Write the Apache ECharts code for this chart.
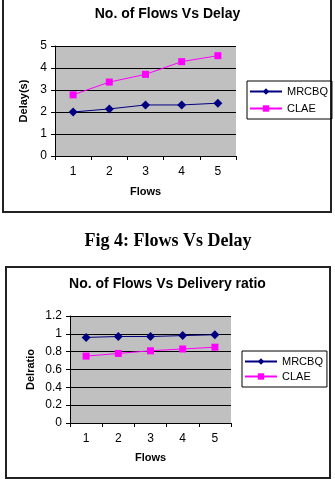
<!DOCTYPE html>
<html>
<head>
<meta charset="utf-8">
<script src="https://cdn.jsdelivr.net/npm/echarts@6/dist/echarts.min.js"></script>
<style>
  html, body { margin: 0; padding: 0; background: #fff; }
  #main { width: 335px; height: 479px; }
</style>
</head>
<body>
<div id="main"></div>
<script>
var flows = ['1', '2', '3', '4', '5'];
var delayMRCBQ = [2.0, 2.14, 2.32, 2.32, 2.4];
var delayCLAE = [2.78, 3.36, 3.71, 4.29, 4.56];
var ratioMRCBQ = [0.96, 0.97, 0.97, 0.98, 0.99];
var ratioCLAE = [0.75, 0.78, 0.81, 0.83, 0.85];

var font = 'Liberation Sans, Arial, sans-serif';
var myChart = echarts.init(document.getElementById('main'));

function yAxisOf(grid, name, max, interval, gap) {
    return {
        type: 'value', gridIndex: grid, min: 0, max: max, interval: interval,
        name: name, nameLocation: 'middle', nameGap: gap,
        nameTextStyle: { fontFamily: font, fontSize: 11, fontWeight: 'bold', color: '#000' },
        axisLine: { show: true, lineStyle: { color: '#000', width: 1 } },
        axisTick: { show: true, length: 4, lineStyle: { color: '#000' } },
        axisLabel: { fontFamily: font, fontSize: 12, color: '#000', margin: 8 },
        splitLine: { show: true, lineStyle: { color: '#000', width: 1 } }
    };
}

function xAxisOf(grid, gap) {
    return {
        type: 'category', gridIndex: grid, data: flows,
        name: 'Flows', nameLocation: 'middle', nameGap: gap,
        nameTextStyle: { fontFamily: font, fontSize: 11, fontWeight: 'bold', color: '#000' },
        axisLine: { show: true, lineStyle: { color: '#000', width: 1 } },
        axisTick: { show: true, length: 4, lineStyle: { color: '#000' } },
        axisLabel: { fontFamily: font, fontSize: 12, color: '#000', margin: 10 }
    };
}

function lineOf(name, grid, data, color, symbol, size) {
    return {
        name: name, type: 'line', xAxisIndex: grid, yAxisIndex: grid, data: data,
        symbol: symbol, symbolSize: size,
        lineStyle: { color: color, width: 1 },
        itemStyle: { color: color },
        emphasis: { disabled: true }
    };
}

function legendOf(left, top, gap, pad) {
    return {
        orient: 'vertical', left: left, top: top,
        data: ['MRCBQ', 'CLAE'],
        borderColor: '#000', borderWidth: 1, padding: pad,
        itemWidth: 32, itemHeight: 8, itemGap: gap,
        textStyle: { fontFamily: font, fontSize: 11, color: '#000' }
    };
}

var option = {
    animation: false,
    graphic: [
        { type: 'rect', shape: { x: 3, y: -5, width: 328, height: 217 },
          style: { fill: 'none', stroke: '#222', lineWidth: 2 } },
        { type: 'rect', shape: { x: 6, y: 267, width: 324, height: 211 },
          style: { fill: 'none', stroke: '#222', lineWidth: 2 } },
        { type: 'text', x: 168, y: 241,
          style: { text: 'Fig 4: Flows Vs Delay', font: 'bold 18px "Liberation Serif", serif',
                   fill: '#000', align: 'center', verticalAlign: 'middle' } }
    ],
    title: [
        { text: 'No. of Flows Vs Delay', left: 'center', top: 2,
          textStyle: { fontFamily: font, fontSize: 14, fontWeight: 'bold', color: '#000' } },
        { text: 'No. of Flows Vs Delivery ratio', left: 'center', top: 272,
          textStyle: { fontFamily: font, fontSize: 14, fontWeight: 'bold', color: '#000' } }
    ],
    legend: [legendOf(247, 81, 6, [5, 4, 5, 2]), legendOf(242, 351, 4, [5, 4, 5, 2])],
    grid: [
        { left: 55, top: 46, width: 181, height: 110, show: true,
          backgroundColor: '#c0c0c0', borderWidth: 0 },
        { left: 70, top: 316, width: 161, height: 107, show: true,
          backgroundColor: '#c0c0c0', borderWidth: 0 }
    ],
    xAxis: [xAxisOf(0, 30), xAxisOf(1, 29)],
    yAxis: [yAxisOf(0, 'Delay(s)', 5, 1, 22), yAxisOf(1, 'Delratio', 1.2, 0.2, 34)],
    series: [
        lineOf('MRCBQ', 0, delayMRCBQ, '#000080', 'diamond', 9),
        lineOf('CLAE', 0, delayCLAE, '#ff00ff', 'rect', 7),
        lineOf('MRCBQ', 1, ratioMRCBQ, '#000080', 'diamond', 9),
        lineOf('CLAE', 1, ratioCLAE, '#ff00ff', 'rect', 7)
    ]
};
myChart.setOption(option);
</script>
</body>
</html>
